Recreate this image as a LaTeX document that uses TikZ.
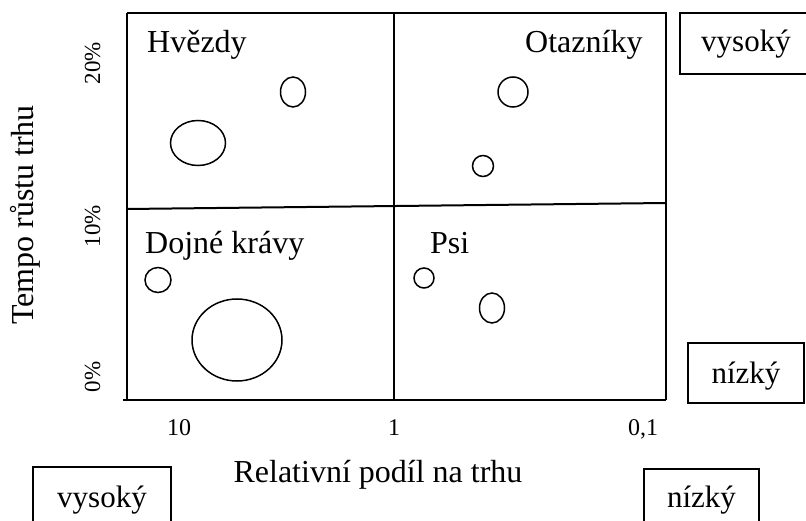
\documentclass[tikz,border=0pt]{standalone}
\usepackage{fontspec}
\setmainfont{Liberation Serif}
\usetikzlibrary{shapes.geometric}
\begin{document}
\begin{tikzpicture}[x=1pt,y=-1pt,
  big/.style={font=\fontsize{32}{36}\selectfont, inner sep=0pt, anchor=base west},
  tick/.style={font=\fontsize{24}{28}\selectfont, inner sep=0pt, anchor=base},
  pct/.style={font=\fontsize{23}{27}\selectfont, inner sep=0pt, rotate=90, anchor=base},
  bubble/.style={draw, line width=1.5pt, ellipse, inner sep=0pt},
  box/.style={draw, line width=1.8pt, inner sep=0pt, font=\fontsize{31}{36}\selectfont, anchor=base},
  frame/.style={line width=2pt}]
\useasboundingbox (0,0) rectangle (806,521);
\clip (0,0) rectangle (806,521);

% frame and quadrants
\coordinate (tl) at (127,13);
\coordinate (tr) at (666,13);
\coordinate (br) at (666,400);
\coordinate (bl) at (127,400);
\coordinate (bx) at (123,400);
\coordinate (mt) at (394,13);
\coordinate (mb) at (394,400);
\coordinate (ml) at (127,209);
\coordinate (mr) at (666,203);
\draw[frame] (tl) -- (tr) -- (br);
\draw[frame] (tl) -- (bl);
\draw[frame] (bx) -- (br);
\draw[frame] (mt) -- (mb);
\draw[frame] (ml) -- (mr);

% quadrant labels
\node[big] (hv) at (147,53) {Hvězdy};
\node[big] (ot) at (525,53) {Otazníky};
\node[big] (dk) at (145,254) {Dojné krávy};
\node[big] (psi) at (430,254) {Psi};

% bubbles
\node[bubble, minimum width=25pt, minimum height=30pt] (b1) at (293,92) {};
\node[bubble, minimum width=55pt, minimum height=45pt] (b2) at (198,143) {};
\node[bubble, minimum width=30pt, minimum height=30pt] (b3) at (513,92) {};
\node[bubble, minimum width=21pt, minimum height=21pt] (b4) at (483,166) {};
\node[bubble, minimum width=26pt, minimum height=25pt] (b5) at (158,280) {};
\node[bubble, minimum width=90pt, minimum height=82pt] (b6) at (237,340) {};
\node[bubble, minimum width=20pt, minimum height=20pt] (b7) at (424,278) {};
\node[bubble, minimum width=25pt, minimum height=30pt] (b8) at (492,308) {};

% axes labels
\node[pct] (p20) at (100,63) {20\%};
\node[pct] (p10) at (100,226) {10\%};
\node[pct] (p0) at (100,377) {0\%};
\node[font=\fontsize{32}{36}\selectfont, inner sep=0pt, rotate=90, anchor=base] (ytitle) at (34,215) {Tempo růstu trhu};

\node[tick] (t10) at (179,435) {10};
\node[tick] (t1) at (394,435) {1};
\node[tick] (t01) at (643,435) {0,1};
\node[font=\fontsize{32}{36}\selectfont, inner sep=0pt, anchor=base] (xtitle) at (378,482) {Relativní podíl na trhu};

% boxes
\node[box, minimum width=132pt, text height=39pt, text depth=22pt] (vys1) at (746,52) {vysoký};
\node[box, minimum width=116pt, text height=40pt, text depth=20pt] (niz1) at (746,383) {nízký};
\node[box, minimum width=115pt, text height=38pt, text depth=30pt] (niz2) at (701.5,507) {nízký};
\node[box, minimum width=138pt, text height=40pt, text depth=30pt] (vys2) at (102,507) {vysoký};
\end{tikzpicture}
\end{document}
